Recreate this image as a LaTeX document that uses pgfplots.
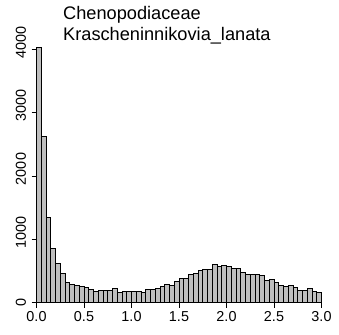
\documentclass[border=0pt]{standalone}
\usepackage{fontspec}
\setmainfont{Liberation Sans}
\usepackage{pgfplots}
\pgfplotsset{compat=1.18}
\usepackage{pgfplotstable}
\definecolor{histgray}{RGB}{190,190,190}
\pgfplotstableread{
x y
0.00 4025
0.05 2631
0.10 1348
0.15 855
0.20 621
0.25 463
0.30 326
0.35 290
0.40 274
0.45 258
0.50 237
0.55 205
0.60 179
0.65 195
0.70 190
0.75 195
0.80 232
0.85 168
0.90 184
0.95 184
1.00 184
1.05 184
1.10 163
1.15 210
1.20 210
1.25 232
1.30 263
1.35 295
1.40 279
1.45 342
1.50 384
1.55 389
1.60 447
1.65 463
1.70 505
1.75 526
1.80 521
1.85 600
1.90 574
1.95 584
2.00 568
2.05 547
2.10 542
2.15 484
2.20 453
2.25 453
2.30 453
2.35 437
2.40 353
2.45 368
2.50 326
2.55 274
2.60 263
2.65 279
2.70 237
2.75 200
2.80 200
2.85 221
2.90 184
2.95 163
3.00 163
}\histdata
\begin{document}
\begin{tikzpicture}
\useasboundingbox (0,0) rectangle (339bp,335bp);
\begin{axis}[
  anchor=south west, at={(36.5bp,32.3bp)},
  scale only axis, width=285bp, height=253.4bp,
  xmin=0, xmax=3, ymin=0, ymax=4000,
  enlargelimits=false, clip=false,
  axis x line*=bottom, axis y line*=left,
  axis line style={line width=0.8bp, -},
  every tick/.style={black, line width=0.8bp},
  tick align=outside, major tick length=5bp,
  xtick={0,0.5,1,1.5,2,2.5,3},
  ytick={0,1000,2000,3000,4000},
  yticklabels={0,\hspace*{14bp}1000,\hspace*{14bp}2000,\hspace*{14bp}3000,\hspace*{14bp}4000},
  scaled y ticks=false, scaled x ticks=false,
  xticklabel style={/pgf/number format/.cd, fixed, fixed zerofill, precision=1},
  yticklabel style={xshift=-2bp, rotate=90, anchor=south},
  /pgf/number format/assume math mode=true,
  tick label style={font=\fontsize{14.4bp}{17bp}\selectfont},
]
\addplot[ybar interval, fill=histgray, draw=black, line width=0.8bp] table[x=x, y=y] {\histdata};
\end{axis}
\node[anchor=base west, font=\fontsize{18.2bp}{21bp}\selectfont, inner sep=0pt] at (63bp,315.7bp) {Chenopodiaceae};
\node[anchor=base west, font=\fontsize{18.2bp}{21bp}\selectfont, inner sep=0pt] at (63bp,294.3bp) {Krascheninnikovia\_lanata};
\end{tikzpicture}
\end{document}
